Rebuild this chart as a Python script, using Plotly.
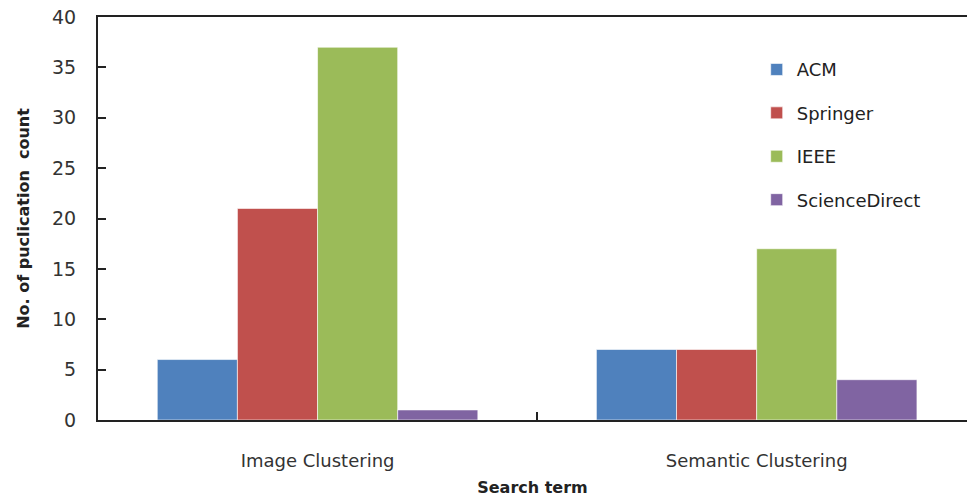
import plotly.graph_objects as go

categories = ["Image Clustering", "Semantic Clustering"]
series_names = ["ACM", "Springer", "IEEE", "ScienceDirect"]
acm = [6, 7]
springer = [21, 7]
ieee = [37, 17]
sciencedirect = [1, 4]
y_ticks = [0, 5, 10, 15, 20, 25, 30, 35, 40]

colors = ["#4F81BD", "#C0504D", "#9BBB59", "#8064A2"]
values = [acm, springer, ieee, sciencedirect]

FONT = "DejaVu Sans"
fig = go.Figure()
for name, vals, col in zip(series_names, values, colors):
    fig.add_trace(go.Bar(
        x=categories, y=vals, name=name, legendgroup=name,
        marker=dict(color=col, line=dict(color="rgba(255,255,255,0.6)", width=1)),
    ))

fig.update_layout(
    width=967, height=500,
    margin=dict(l=98, r=0, t=17, b=80),
    paper_bgcolor="white", plot_bgcolor="white",
    barmode="group", bargap=0.27, bargroupgap=0,
    font=dict(family=FONT, size=18, color="#333333"),
    legend=dict(x=0.758, y=0.915, xanchor="left", yanchor="top",
                traceorder="grouped", tracegroupgap=17,
                font=dict(size=18, color="#222222"),
                bgcolor="rgba(0,0,0,0)", itemwidth=30),
    showlegend=True,
)
fig.update_xaxes(
    range=[-0.5, 1.479], showline=True, linecolor="#222222", linewidth=2,
    mirror=True, ticks="inside", ticklen=8, tickcolor="#222222", tickwidth=1.5,
    tickson="boundaries", showgrid=False, ticklabelstandoff=23,
    title=dict(text="<b>Search term</b>", font=dict(size=16, color="#222222"), standoff=12),
    tickfont=dict(size=18, color="#333333"),
)
fig.update_yaxes(
    range=[0, 40], tickvals=y_ticks, showline=True, linecolor="#222222", linewidth=2,
    ticks="inside", ticklen=8, tickcolor="#222222", tickwidth=1.5,
    showgrid=False, zeroline=False, ticklabelstandoff=16,
    title=dict(text="<b>No. of puclication  count</b>", font=dict(size=16, color="#222222"), standoff=18),
    tickfont=dict(size=19, color="#333333"),
)
fig.write_html("out.html")
